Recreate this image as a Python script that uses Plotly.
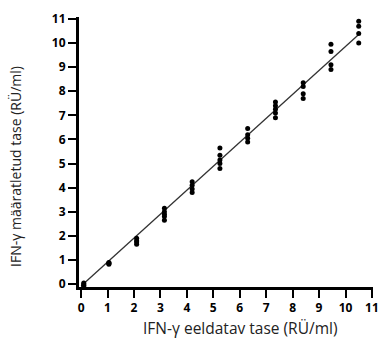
import plotly.graph_objects as go

# Data
expected_levels = [0.1, 1.05, 2.1, 3.15, 4.2, 5.25, 6.3, 7.35, 8.4, 9.45, 10.5]
measured_values = [
    [0.05, 0.0, -0.05, -0.1],
    [0.82, 0.85, 0.88, 0.9],
    [1.65, 1.75, 1.8, 1.9],
    [2.65, 2.8, 2.9, 3.0, 3.15],
    [3.8, 3.95, 4.1, 4.25],
    [4.8, 5.0, 5.15, 5.35, 5.65],
    [5.9, 6.05, 6.2, 6.45],
    [6.9, 7.1, 7.25, 7.4, 7.55],
    [7.7, 7.9, 8.2, 8.35],
    [8.9, 9.1, 9.65, 9.95],
    [10.0, 10.4, 10.7, 10.9],
]
fit_x = [0.0, 10.5]
fit_y = [-0.08, 10.35]
tick_vals = list(range(0, 12))

xs, ys = [], []
for xv, vals in zip(expected_levels, measured_values):
    for v in vals:
        xs.append(xv)
        ys.append(v)

fig = go.Figure()
fig.add_trace(go.Scatter(x=fit_x, y=fit_y, mode="lines",
                         line=dict(color="#333333", width=1.3), hoverinfo="skip"))
fig.add_trace(go.Scatter(x=xs, y=ys, mode="markers",
                         marker=dict(color="black", size=5)))

font_family = "Open Sans, DejaVu Sans, sans-serif"
axis_common = dict(
    showgrid=False, zeroline=False, showline=True, linecolor="black", linewidth=3,
    ticks="outside", ticklen=8, tickwidth=2, tickcolor="black",
    tickvals=tick_vals, ticktext=[str(t) for t in tick_vals],
    tickfont=dict(family=font_family, size=12, color="black", weight="bold"),
    automargin=False, fixedrange=True,
)
fig.update_xaxes(range=[-0.08, 11.04], **axis_common)
fig.update_yaxes(range=[-0.12, 11.08], **axis_common)

fig.add_annotation(text="IFN-γ eeldatav tase (RÜ/ml)", xref="paper", yref="paper",
                   x=0.546, y=-0.152, xanchor="center", yanchor="middle", showarrow=False,
                   font=dict(family=font_family, size=15.5, color="#222222"))
fig.add_annotation(text="IFN-γ määratletud tase (RÜ/ml)", xref="paper", yref="paper",
                   x=-0.218, y=0.448, xanchor="center", yanchor="middle", showarrow=False,
                   textangle=-90,
                   font=dict(family=font_family, size=14, color="#222222"))

fig.update_layout(
    width=381, height=342,
    margin=dict(l=79, r=8, t=17, b=55),
    paper_bgcolor="white", plot_bgcolor="white",
    showlegend=False,
)
fig.write_html("out.html")
